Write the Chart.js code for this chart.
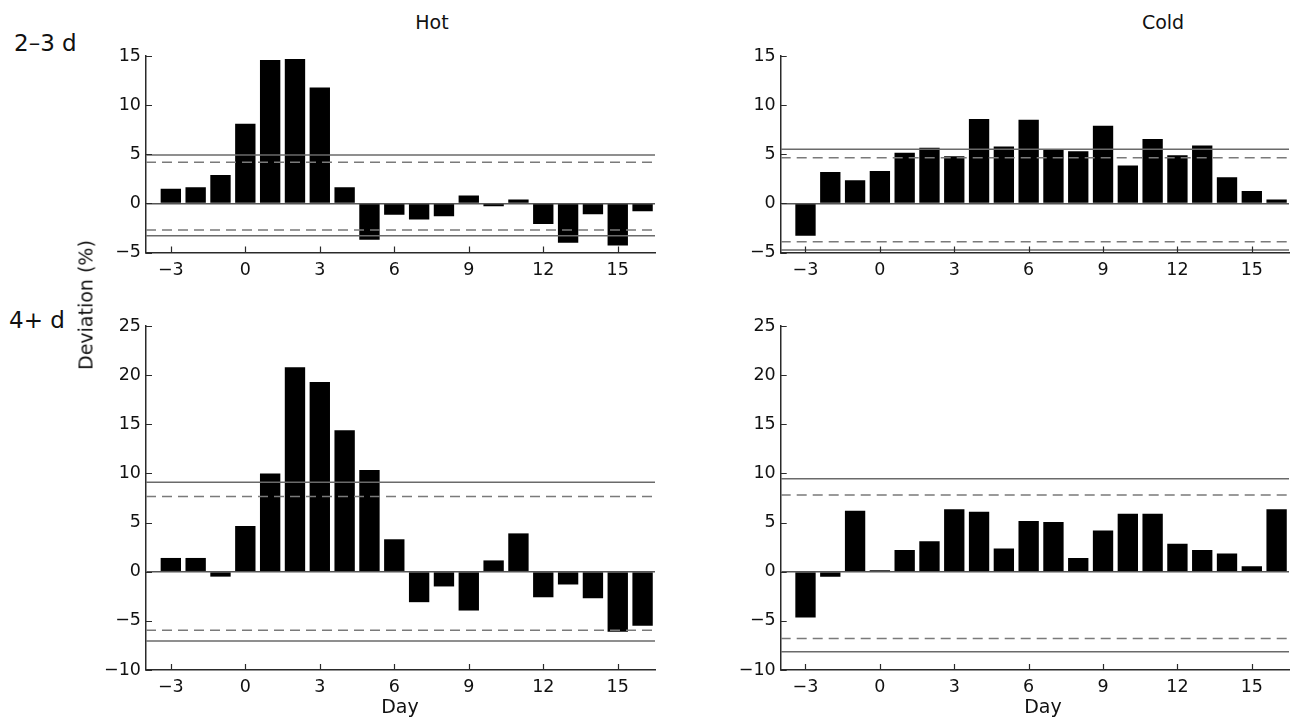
<!DOCTYPE html>
<html>
<head>
<meta charset="utf-8">
<script src="https://cdn.jsdelivr.net/npm/chart.js@4/dist/chart.umd.min.js"></script>
<style>
    body { margin: 0; background: #fff; width: 1291px; height: 728px; overflow: hidden; position: relative;
           font-family: "DejaVu Sans", "Liberation Sans", Arial, sans-serif; color: #111; }
    canvas { position: absolute; }
    .lbl { position: absolute; font-size: 19px; white-space: nowrap; line-height: 1; }
    .row { font-size: 23px; }
</style>
</head>
<body>
<canvas id="hotShort" width="570" height="240" style="left:90px; top:40px"></canvas>
<canvas id="coldShort" width="566" height="240" style="left:725px; top:40px"></canvas>
<canvas id="hotLong" width="570" height="390" style="left:90px; top:310px"></canvas>
<canvas id="coldLong" width="566" height="390" style="left:725px; top:310px"></canvas>

<div class="lbl" style="left:432px; top:13px; transform:translateX(-50%)">Hot</div>
<div class="lbl" style="left:1163px; top:13px; transform:translateX(-50%)">Cold</div>
<div class="lbl row" style="left:14px; top:32px">2–3 d</div>
<div class="lbl row" style="left:9px; top:309px">4+ d</div>
<div class="lbl" style="left:86px; top:305px; transform:translate(-50%,-50%) rotate(-90deg)">Deviation (%)</div>
<div class="lbl" style="left:400px; top:697px; transform:translateX(-50%)">Day</div>
<div class="lbl" style="left:1043px; top:697px; transform:translateX(-50%)">Day</div>

<script>
// days relative to event start
const days = [-3, -2, -1, 0, 1, 2, 3, 4, 5, 6, 7, 8, 9, 10, 11, 12, 13, 14, 15, 16];
const dayTicks = [-3, 0, 3, 6, 9, 12, 15];

// deviation (%) per day
const hotShort  = [1.5, 1.65, 2.9, 8.1, 14.6, 14.7, 11.8, 1.65, -3.7, -1.15, -1.65, -1.3, 0.8, -0.3, 0.4, -2.1, -4.0, -1.1, -4.3, -0.8];
const coldShort = [-3.3, 3.2, 2.35, 3.3, 5.15, 5.65, 4.8, 8.6, 5.8, 8.5, 5.5, 5.3, 7.9, 3.85, 6.55, 4.9, 5.9, 2.65, 1.25, 0.4];
const hotLong   = [1.4, 1.4, -0.5, 4.65, 10.0, 20.8, 19.3, 14.4, 10.35, 3.3, -3.1, -1.5, -3.95, 1.15, 3.9, -2.6, -1.3, -2.7, -6.1, -5.5];
const coldLong  = [-4.65, -0.5, 6.2, 0.15, 2.2, 3.1, 6.35, 6.1, 2.35, 5.15, 5.05, 1.4, 4.2, 5.9, 5.9, 2.85, 2.2, 1.85, 0.55, 6.35];

// significance bands [upper, lower]
const hotShortSolid   = [4.93, -3.3];
const hotShortDashed  = [4.18, -2.7];
const coldShortSolid  = [5.5, -4.75];
const coldShortDashed = [4.65, -3.9];
const hotLongSolid    = [9.1, -7.05];
const hotLongDashed   = [7.65, -5.95];
const coldLongSolid   = [9.45, -8.15];
const coldLongDashed  = [7.8, -6.8];

const shortTicks = [-5, 0, 5, 10, 15];
const longTicks  = [-10, -5, 0, 5, 10, 15, 20, 25];

const xMin = -4, xMax = 16.5;
const axisColor = '#2a2a2a';
const fontSpec = { family: '"DejaVu Sans", "Liberation Sans", Arial, sans-serif', size: 17.5 };

const minus = v => String(v).replace('-', '\u2212');

// short inward tick marks on both axes
const innerTicks = {
    id: 'innerTicks',
    afterDraw(chart) {
        const { ctx, chartArea, scales } = chart;
        ctx.save();
        ctx.strokeStyle = axisColor;
        ctx.lineWidth = 1.2;
        ctx.beginPath();
        scales.x.ticks.forEach(t => {
            const px = Math.round(scales.x.getPixelForValue(t.value)) + 0.5;
            ctx.moveTo(px, chartArea.bottom);
            ctx.lineTo(px, chartArea.bottom - 6);
        });
        scales.y.ticks.forEach(t => {
            const py = Math.round(scales.y.getPixelForValue(t.value)) + 0.5;
            ctx.moveTo(chartArea.left, py);
            ctx.lineTo(chartArea.left + 6, py);
        });
        ctx.stroke();
        ctx.restore();
    }
};

function bandLine(y, dashed) {
    return {
        type: 'line',
        data: [{ x: xMin, y: y }, { x: xMax, y: y }],
        borderColor: dashed ? '#7a7a7a' : '#6a6a6a',
        borderWidth: 1.5,
        borderDash: dashed ? [10, 6] : [],
        pointRadius: 0,
        order: 0
    };
}

function makePanel(id, values, solid, dashed, yMin, yMax, yTicks, yWidth, xHeight, padRight) {
    const ctx = document.getElementById(id);
    const datasets = [
        bandLine(solid[0], false), bandLine(solid[1], false),
        bandLine(dashed[0], true), bandLine(dashed[1], true),
        {
            type: 'bar',
            data: days.map((d, i) => ({ x: d, y: values[i] })),
            backgroundColor: '#000',
            borderWidth: 0,
            barPercentage: 0.82,
            categoryPercentage: 1,
            order: 1
        }
    ];
    return new Chart(ctx, {
        type: 'bar',
        data: { datasets },
        options: {
            responsive: false,
            animation: false,
            layout: { padding: { top: 16, right: padRight, left: 0, bottom: 0 } },
            plugins: { legend: { display: false }, tooltip: { enabled: false } },
            scales: {
                x: {
                    type: 'linear',
                    min: xMin,
                    max: xMax,
                    offset: false,
                    afterBuildTicks: s => { s.ticks = dayTicks.map(v => ({ value: v })); },
                    afterFit: s => { s.height = xHeight; },
                    grid: { display: false, drawTicks: false },
                    border: { display: true, color: axisColor, width: 1.5 },
                    ticks: { color: '#111', font: fontSpec, padding: 7, maxRotation: 0, callback: v => minus(v) }
                },
                y: {
                    min: yMin,
                    max: yMax,
                    afterBuildTicks: s => { s.ticks = yTicks.map(v => ({ value: v })); },
                    afterFit: s => { s.width = yWidth; },
                    grid: {
                        drawTicks: false,
                        lineWidth: 1.5,
                        color: c => c.tick && c.tick.value === 0 ? '#555' : 'rgba(0,0,0,0)'
                    },
                    border: { display: true, color: axisColor, width: 1.5 },
                    ticks: { color: '#111', font: fontSpec, padding: 5, callback: v => minus(v) }
                }
            }
        },
        plugins: [innerTicks]
    });
}

makePanel('hotShort', hotShort, hotShortSolid, hotShortDashed, -5, 15, shortTicks, 56, 27.5, 5);
makePanel('coldShort', coldShort, coldShortSolid, coldShortDashed, -5, 15, shortTicks, 55.7, 27.5, 2);
makePanel('hotLong', hotLong, hotLongSolid, hotLongDashed, -10, 25, longTicks, 56, 30, 5);
makePanel('coldLong', coldLong, coldLongSolid, coldLongDashed, -10, 25, longTicks, 55.7, 30, 2);
</script>
</body>
</html>
